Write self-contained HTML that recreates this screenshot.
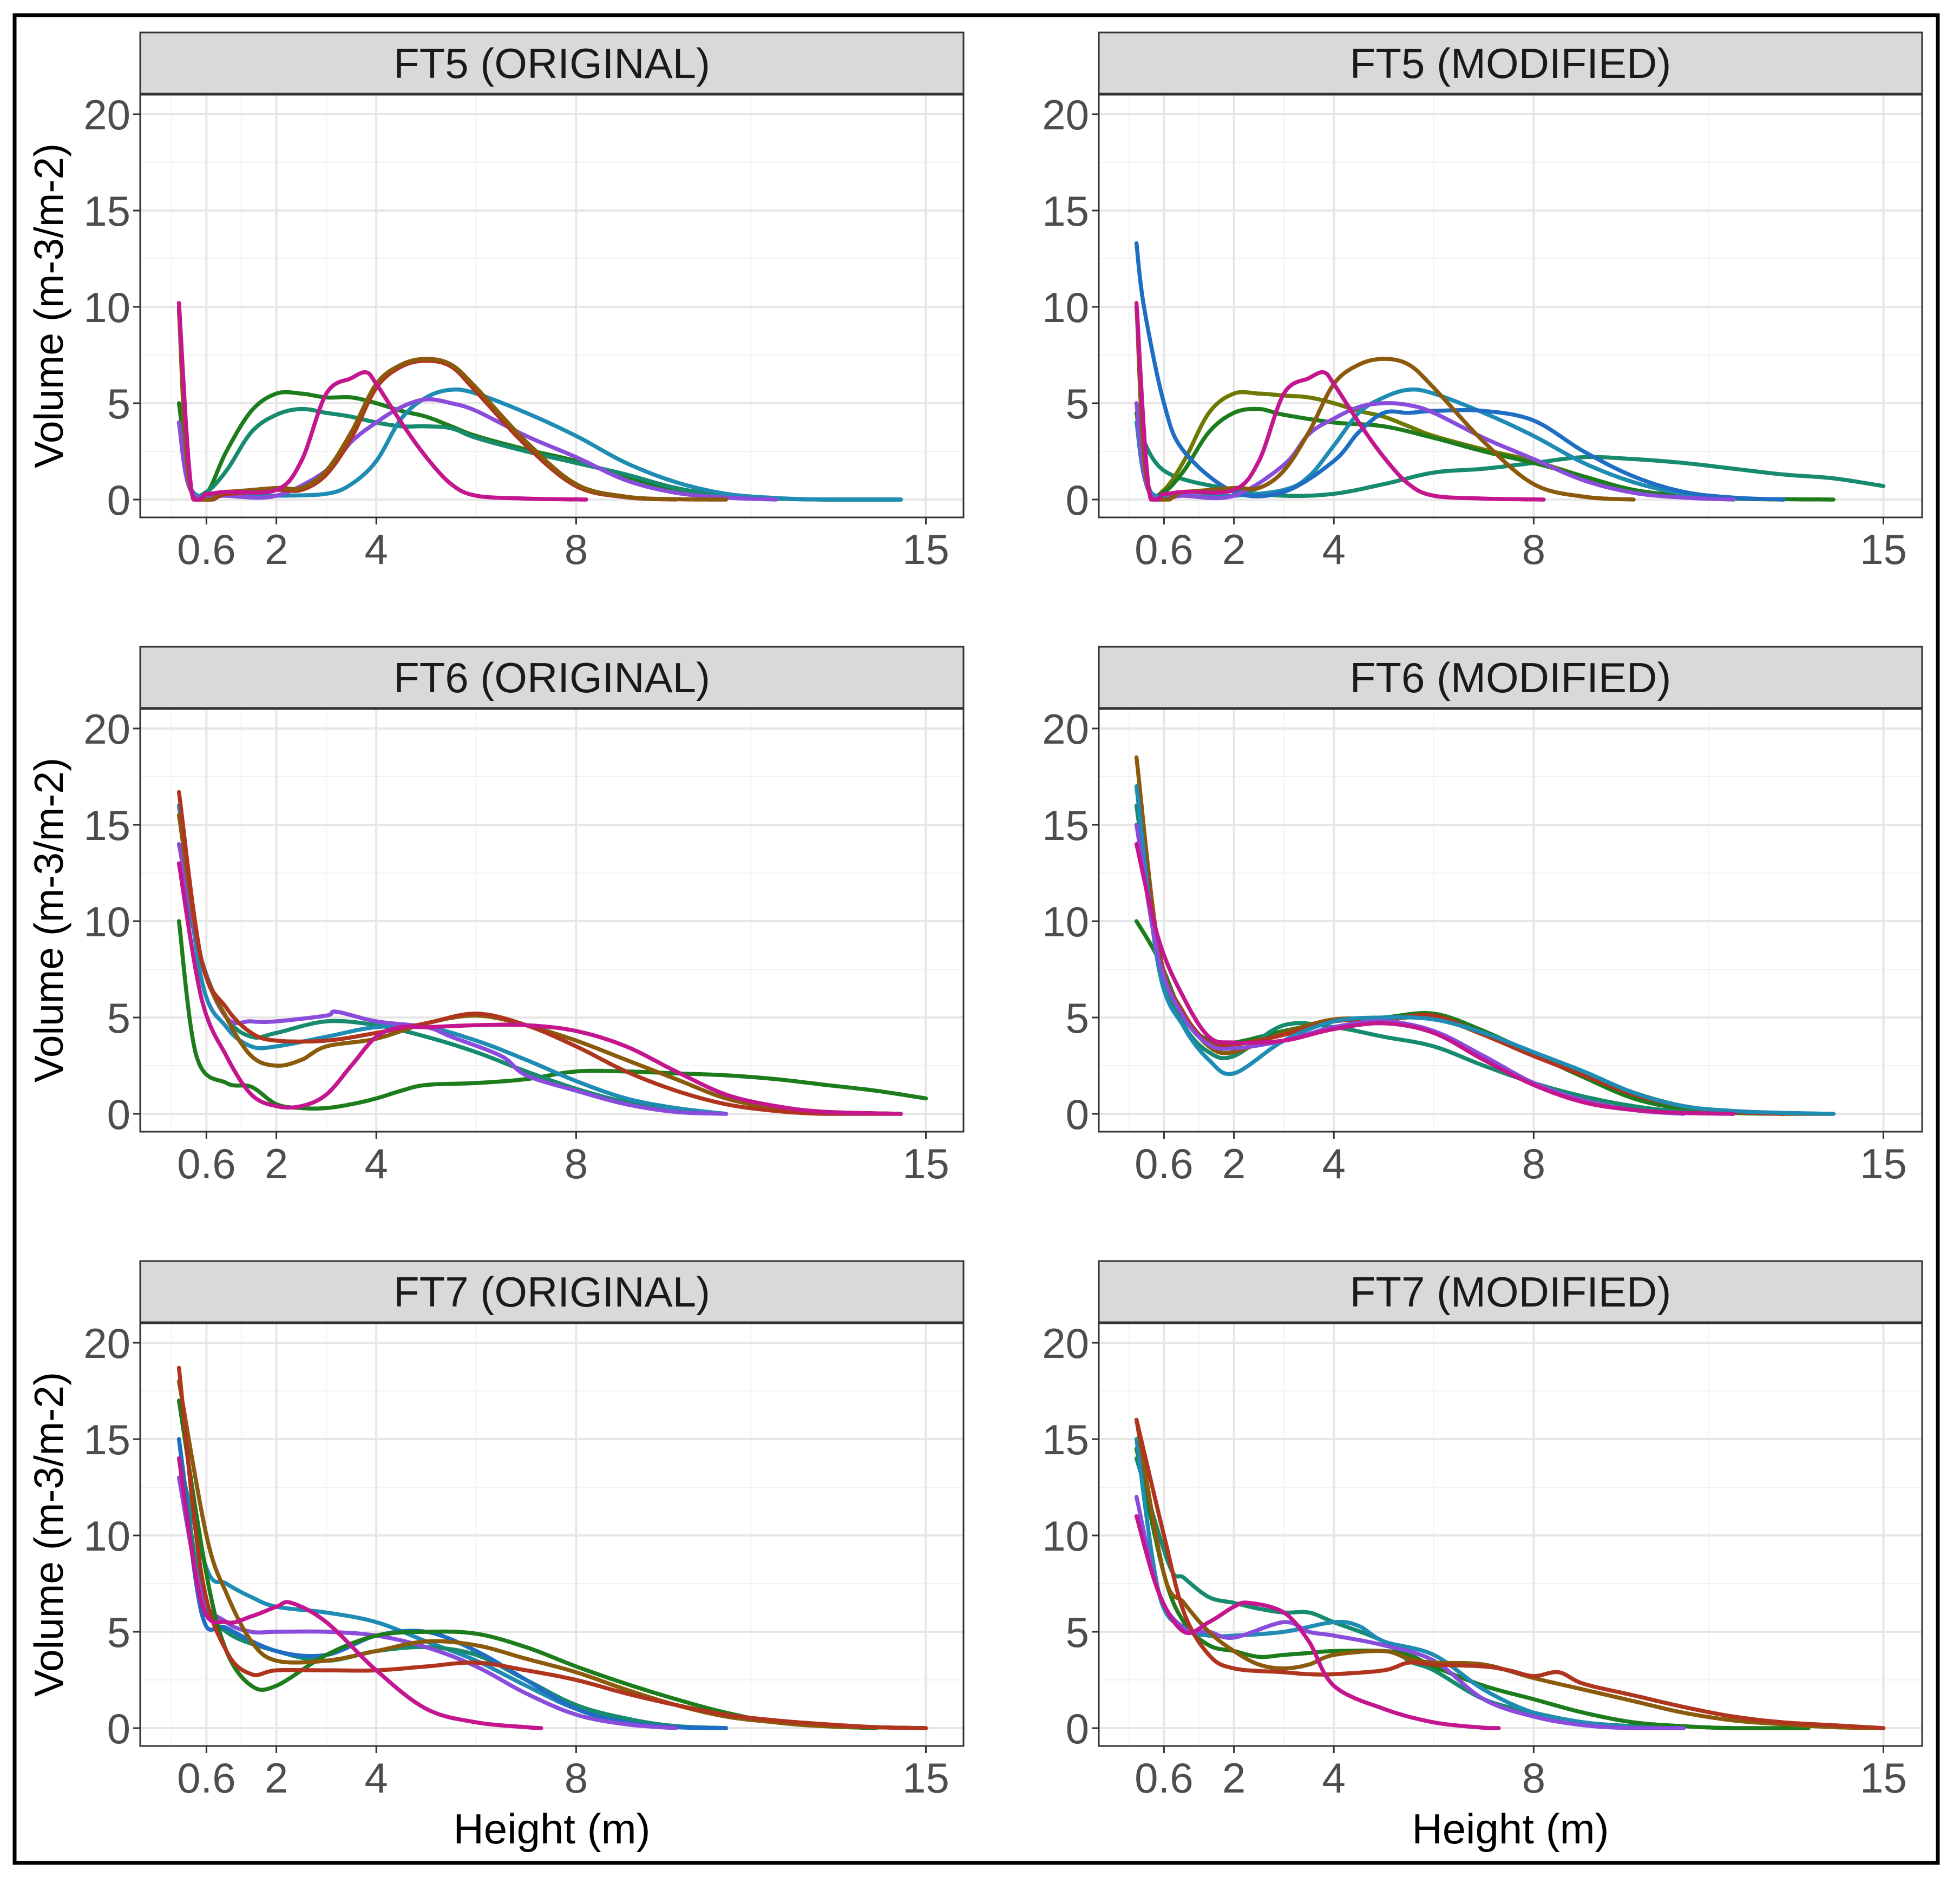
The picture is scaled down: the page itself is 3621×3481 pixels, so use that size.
<!DOCTYPE html>
<html><head><meta charset="utf-8"><style>html,body{margin:0;padding:0;background:#fff}svg{display:block}</style></head>
<body>
<svg id="fig" xmlns="http://www.w3.org/2000/svg" width="3621" height="3481" viewBox="0 0 3621 3481">
<rect x="0" y="0" width="3621" height="3481" fill="#fff"/>
<rect x="27" y="28" width="3553" height="3414" fill="none" stroke="#000" stroke-width="7"/>
<g id="plots"></g>
</svg>
<script>
const panelTitles = ["FT5 (ORIGINAL)","FT5 (MODIFIED)","FT6 (ORIGINAL)","FT6 (MODIFIED)","FT7 (ORIGINAL)","FT7 (MODIFIED)"];
const xTicks = [0.6,2,4,8,15];
const xTickLabels = ["0.6","2","4","8","15"];
const xMinor = [-0.1,1.3,3,6,11.5];
const yTicks = [0,5,10,15,20];
const yTickLabels = ["0","5","10","15","20"];
const yMinor = [2.5,7.5,12.5,17.5];

// FT5 original
const ft5o_green = [[0.05,5],[0.3,0.5],[0.6,0.3],[1,2.5],[1.5,4.6],[2,5.5],[2.5,5.5],[3,5.3],[3.5,5.3],[4,5.0],[4.5,4.6],[5,4.3],[5.5,3.8],[6,3.3],[7,2.6],[8,2.0],[9,1.2],[10,0.5],[11,0.2],[12,0.05],[13,0],[14.5,0]];
const ft5o_teal = [[0.05,4],[0.3,0.5],[0.6,0.4],[1,1.5],[1.5,3.5],[2,4.4],[2.5,4.7],[3,4.5],[3.5,4.3],[4,4.0],[4.5,3.8],[5,3.8],[5.5,3.7],[6,3.2],[7,2.5],[8,1.9],[9,1.3],[10,0.6],[11,0.2],[12,0.05],[13,0],[14.5,0]];
const ft5o_magenta = [[0.05,10.2],[0.3,0.5],[0.6,0.3],[1,0.4],[2,0.5],[2.5,2],[3,5.5],[3.5,6.3],[3.8,6.6],[4,6],[4.5,4],[5,2.2],[5.5,0.8],[6,0.2],[7,0.05],[8.2,0]];
const ft5o_brown = [[0.05,10],[0.3,0.4],[1,0.4],[2,0.6],[2.5,0.6],[3,1.5],[3.5,3.5],[4,6],[4.5,7],[5,7.3],[5.5,7],[6,5.8],[7,3.0],[8,0.8],[9,0.15],[10,0.02],[11,0]];
const ft5o_red = [[0.05,9.8],[0.3,0.4],[1,0.3],[2,0.5],[2.5,0.5],[3,1.3],[3.5,3.2],[4,5.8],[4.5,6.9],[5,7.2],[5.5,6.9],[6,5.6],[7,2.8],[8,0.7],[9,0.12],[10,0]];
const ft5o_purple = [[0.05,4],[0.3,0.4],[1,0.2],[2,0.2],[3,1.5],[3.5,3.0],[4,4],[4.5,4.8],[5,5.2],[5.5,5],[6,4.6],[7,3.3],[8,2.2],[9,1.0],[10,0.35],[11,0.1],[12,0]];
const ft5o_tealblue = [[0.05,4],[0.3,0.5],[1,0.2],[2,0.2],[3,0.3],[3.5,0.8],[4,2.0],[4.5,4.2],[5,5.3],[5.5,5.7],[6,5.5],[7,4.5],[8,3.3],[9,1.9],[10,0.9],[11,0.3],[12,0.08],[13,0],[14.5,0]];
// FT5 modified
const ft5m_blue = [[0.05,13.3],[0.2,10],[0.6,5],[1,2.5],[2,0.4],[3,0.4],[4,2],[4.5,3.5],[5,4.5],[5.5,4.5],[6,4.6],[7,4.6],[8,4.1],[9,2.5],[10,1.2],[11,0.4],[12,0.1],[13,0]];
const ft5m_teal = [[0.05,4],[0.6,1.5],[2,0.5],[3,0.2],[4,0.3],[5,0.8],[6,1.4],[7,1.6],[8,1.9],[9,2.2],[10,2.1],[11,1.9],[12,1.6],[13,1.3],[14,1.1],[15,0.7]];
const ft5m_olive = [[0.05,5],[0.3,0.5],[0.6,0.5],[1,2],[1.5,4.5],[2,5.5],[2.5,5.5],[3,5.4],[3.5,5.3],[4,5.0],[4.5,4.6],[5,4.3],[5.5,3.8],[6,3.3],[7,2.6],[8,2.0],[9,1.2],[10,0.5],[11,0.2],[12,0.05],[13,0]];
const ft5m_green = [[0.05,4.5],[0.3,0.6],[0.6,0.4],[1,1.5],[1.5,3.5],[2,4.5],[2.5,4.7],[3,4.4],[4,4.0],[5,3.8],[6,3.2],[7,2.5],[8,1.9],[9,1.2],[10,0.5],[11,0.2],[12,0.05],[14,0]];
const ft5m_magenta = [[0.05,10.2],[0.3,0.5],[0.6,0.3],[1,0.4],[2,0.5],[2.5,2],[3,5.5],[3.5,6.3],[3.8,6.6],[4,6],[4.5,4],[5,2.2],[5.5,0.8],[6,0.2],[7,0.05],[8.2,0]];
const ft5m_brown = [[0.05,10],[0.3,0.4],[1,0.4],[2,0.6],[2.5,0.6],[3,1.5],[3.5,3.5],[4,6],[4.5,7],[5,7.3],[5.5,7],[6,5.8],[7,3.0],[8,0.8],[9,0.15],[10,0]];
const ft5m_purple = [[0.05,5],[0.3,0.4],[1,0.2],[2,0.2],[3,1.8],[3.5,3.4],[4,4.2],[4.5,4.8],[5,5.0],[5.5,4.9],[6,4.5],[7,3.2],[8,2.1],[9,1.0],[10,0.35],[11,0.1],[12,0]];
const ft5m_tealblue = [[0.05,4],[0.3,0.5],[1,0.2],[2,0.2],[3,0.5],[3.5,1.2],[4,2.8],[4.5,4.5],[5,5.3],[5.5,5.7],[6,5.5],[7,4.5],[8,3.3],[9,1.9],[10,0.9],[11,0.3],[12,0.08],[13,0]];
// FT6 original
const ft6o_green = [[0.05,10],[0.4,3],[1,1.6],[1.5,1.4],[2,0.5],[2.5,0.3],[3,0.3],[3.5,0.5],[4,0.8],[4.5,1.2],[5,1.5],[6,1.6],[7,1.8],[8,2.2],[9,2.2],[10,2.1],[11,2.0],[12,1.8],[13,1.5],[14,1.2],[15,0.8]];
const ft6o_magenta = [[0.05,13],[0.5,6],[1,3],[1.5,1.0],[2,0.4],[2.5,0.4],[3,1.0],[3.5,2.5],[4,4],[4.5,4.5],[5,4.5],[6,4.6],[7,4.6],[8,4.3],[9,3.5],[10,2.2],[11,1.0],[12,0.4],[13,0.1],[14.5,0]];
const ft6o_brown = [[0.05,15.5],[0.5,8],[1,5],[1.5,3],[2,2.5],[2.5,2.8],[3,3.5],[4,3.9],[5,4.7],[6,5.1],[7,4.6],[8,3.8],[9,2.8],[10,1.8],[11,0.8],[12,0.3],[13,0.1],[14.5,0]];
const ft6o_red = [[0.05,16.7],[0.5,8],[1,5.5],[1.5,4.2],[2,3.8],[3,3.8],[4,4.2],[5,4.7],[6,5.2],[7,4.6],[8,3.5],[9,2.2],[10,1.2],[11,0.5],[12,0.15],[13,0],[14.5,0]];
const ft6o_purple = [[0.05,14],[0.5,8],[1,5],[1.5,4.8],[2,4.8],[3,5.1],[3.2,5.3],[4,4.8],[5,4.5],[5.5,4],[6.5,3],[7,2],[8,1.2],[9,0.5],[10,0.1],[11,0]];
const ft6o_teal = [[0.05,13],[0.5,8],[1,5],[1.5,4],[2,4.2],[3,4.8],[4,4.6],[5,4.0],[6,3.2],[7,2.2],[8,1.3],[9,0.6],[10,0.15],[11,0]];
const ft6o_blue = [[0.05,16],[0.5,7],[1,4.5],[1.5,3.5],[2,3.5],[3,4.0],[4,4.5],[5,4.5],[6,3.8],[7,2.8],[8,1.7],[9,0.8],[10,0.3],[11,0]];
// FT6 modified
const ft6m_brown = [[0.05,18.5],[0.5,8.5],[1,5.2],[1.5,3.5],[2,3.2],[3,4.2],[4,4.9],[5,4.9],[6,5.0],[7,4.1],[8,3.1],[9,2.1],[10,1.1],[11,0.4],[12,0.1],[13,0],[14,0]];
const ft6m_red = [[0.05,17],[0.5,8.2],[1,5.2],[1.5,3.7],[2,3.6],[3,4.1],[4,4.8],[5,4.9],[6,5.1],[7,4.1],[8,3.0],[9,2.0],[10,1.0],[11,0.4],[12,0.1],[13,0]];
const ft6m_blue = [[0.05,17],[0.5,7.5],[1,4.5],[1.5,2.8],[2,2.1],[3,3.8],[4,4.8],[5,5.0],[6,4.9],[7,4.2],[8,3.2],[9,2.2],[10,1.1],[11,0.4],[12,0.15],[13,0.05],[14,0]];
const ft6m_teal = [[0.05,16],[0.5,7.8],[1,4.6],[1.5,3.2],[2,3.0],[3,4.6],[4,4.5],[5,4.0],[6,3.5],[7,2.5],[8,1.6],[9,0.9],[10,0.4],[11,0.1],[12,0]];
const ft6m_green = [[0.05,10],[0.5,8],[1,5],[1.5,3.8],[2,3.7],[3,4.3],[4,4.8],[5,5.0],[6,5.2],[7,4.3],[8,3.1],[9,1.9],[10,0.8],[11,0.25],[12,0.05],[13,0]];
const ft6m_purple = [[0.05,15],[0.5,8],[1,5],[1.5,3.6],[2,3.4],[3,3.8],[4,4.5],[5,4.8],[6,4.3],[7,3.0],[8,1.6],[9,0.7],[10,0.2],[11,0]];
const ft6m_magenta = [[0.05,14],[0.5,9],[1,6],[1.5,4],[2,3.7],[3,3.8],[4,4.4],[5,4.7],[6,4.2],[7,2.8],[8,1.5],[9,0.6],[10,0.2],[11,0.05],[12,0]];
// FT7 original
const ft7o_tealblue = [[0.05,14],[0.6,8.3],[1,7.5],[1.5,6.8],[2,6.3],[3,6],[4,5.5],[5,4.5],[6,3.5],[7,2.2],[8,1.0],[9,0.4],[10,0.1],[11,0]];
const ft7o_magenta = [[0.05,14],[0.5,6.5],[1,5.5],[1.5,5.8],[2,6.3],[2.3,6.5],[3,5.5],[4,3.0],[5,1.0],[6,0.3],[7,0.05],[7.3,0]];
const ft7o_green = [[0.05,17],[0.6,8],[1,4],[1.5,2.2],[2,2.2],[3,3.8],[4,4.8],[5,5.0],[6,4.9],[7,4.2],[8,3.2],[9,2.3],[10,1.5],[11,0.8],[12,0.3],[13,0.1],[14,0]];
const ft7o_brown = [[0.05,18],[0.6,10],[1,7],[1.5,4.5],[2,3.5],[3,3.5],[4,4.0],[5,4.5],[6,4.3],[7,3.6],[8,2.9],[9,2.0],[10,1.2],[11,0.6],[12,0.3],[13,0.1],[15,0]];
const ft7o_red = [[0.05,18.7],[0.5,8],[1,4],[1.5,2.8],[2,3],[3,3],[4,3.0],[5,3.2],[6,3.4],[7,3.0],[8,2.5],[9,1.8],[10,1.2],[11,0.7],[12,0.4],[13,0.2],[14,0.05],[15,0]];
const ft7o_purple = [[0.05,13],[0.5,7],[1,5.5],[1.5,5],[2,5],[3,5],[4,4.8],[5,4.2],[6,3.2],[7,1.8],[8,0.7],[9,0.2],[10,0]];
const ft7o_blue = [[0.05,15],[0.5,6],[1,5.2],[2,4],[3,3.8],[4,4.8],[5,5.0],[6,4.0],[7,2.5],[8,1.0],[9,0.3],[10,0.05],[11,0]];
const ft7o_teal = [[0.05,15],[0.5,7],[1,5],[2,4],[3,3.5],[4,4.0],[5,4.2],[6,3.8],[7,2.5],[8,1.2],[9,0.5],[10,0.1],[11,0]];
// FT7 modified
const ft7m_red = [[0.05,16],[0.6,10],[1,6],[1.5,3.8],[2,3.1],[3,2.9],[3.5,2.8],[4,2.8],[5,3.0],[5.5,3.4],[6,3.3],[7,3.2],[7.5,3.0],[8,2.7],[8.5,2.9],[9,2.3],[10,1.7],[11,1.1],[12,0.6],[13,0.3],[14,0.15],[15,0]];
const ft7m_brown = [[0.05,16],[0.6,8],[1,6.5],[1.5,5],[2,4],[2.5,3.3],[3,3.1],[3.5,3.3],[4,3.8],[5,4.0],[5.5,3.6],[6,3.4],[7,3.3],[8,2.6],[9,2.0],[10,1.4],[11,0.8],[12,0.4],[13,0.2],[14,0.05],[15,0]];
const ft7m_teal = [[0.05,14],[0.7,8.5],[1,7.8],[1.5,6.8],[2,6.5],[2.5,6.2],[3,6],[3.5,6],[4,5.5],[5,4.5],[5.5,3.5],[6,3.0],[7,1.5],[8,0.8],[9,0.3],[10,0.1],[11,0]];
const ft7m_green = [[0.05,14.5],[0.6,8],[1,5.5],[1.5,4.3],[2,4],[2.5,3.7],[3,3.8],[3.5,3.9],[4,4.0],[5,4.0],[5.5,3.8],[6,3.2],[7,2.2],[8,1.5],[9,0.8],[10,0.3],[11,0.1],[12,0],[13.5,0]];
const ft7m_magenta = [[0.05,11],[0.5,7],[1,5],[1.5,5.5],[2,6.3],[2.3,6.5],[3,6],[3.5,4.5],[4,2.2],[5,1.0],[6,0.3],[7,0.02],[7.3,0]];
const ft7m_blue = [[0.05,15],[0.5,7],[1,5.2],[1.5,4.8],[2,4.8],[3,5],[4,5.5],[4.5,5.3],[5,4.5],[6,3.8],[7,2.0],[8,0.8],[9,0.3],[10,0.05],[11,0]];
const ft7m_purple = [[0.05,12],[0.5,7],[1,5.2],[1.5,5],[2,4.7],[3,5.5],[3.5,5.0],[4,4.8],[5,4.3],[6,3.5],[7,1.5],[8,0.6],[9,0.15],[10,0],[11,0]];

const C = {green:"#1d7d1d",teal:"#168b6d",brown:"#8b5a0c",red:"#b0351f",magenta:"#c4168f",purple:"#8a4ddb",blue:"#1f6ec4",tealblue:"#1f8cb3",olive:"#6f7a05"};
const panelSeries = [
 [[ft5o_green,C.green],[ft5o_teal,C.teal],[ft5o_tealblue,C.tealblue],[ft5o_purple,C.purple],[ft5o_red,C.red],[ft5o_brown,C.brown],[ft5o_magenta,C.magenta]],
 [[ft5m_teal,C.teal],[ft5m_olive,C.olive],[ft5m_green,C.green],[ft5m_tealblue,C.tealblue],[ft5m_blue,C.blue],[ft5m_purple,C.purple],[ft5m_brown,C.brown],[ft5m_magenta,C.magenta]],
 [[ft6o_green,C.green],[ft6o_teal,C.teal],[ft6o_blue,C.tealblue],[ft6o_purple,C.purple],[ft6o_brown,C.brown],[ft6o_red,C.red],[ft6o_magenta,C.magenta]],
 [[ft6m_green,C.green],[ft6m_teal,C.teal],[ft6m_brown,C.brown],[ft6m_red,C.red],[ft6m_blue,C.tealblue],[ft6m_purple,C.purple],[ft6m_magenta,C.magenta]],
 [[ft7o_tealblue,C.tealblue],[ft7o_teal,C.teal],[ft7o_blue,C.blue],[ft7o_purple,C.purple],[ft7o_green,C.green],[ft7o_brown,C.brown],[ft7o_red,C.red],[ft7o_magenta,C.magenta]],
 [[ft7m_teal,C.teal],[ft7m_green,C.green],[ft7m_blue,C.tealblue],[ft7m_purple,C.purple],[ft7m_brown,C.brown],[ft7m_red,C.red],[ft7m_magenta,C.magenta]]
];

const NS = "http://www.w3.org/2000/svg";
const root = document.getElementById("plots");
function mk(tag, attrs, parent){const e=document.createElementNS(NS,tag);for(const k in attrs)e.setAttribute(k,attrs[k]);parent.appendChild(e);return e;}

const colX = [259, 2030], W = 1521;
const rowTop = [60, 1195, 2330];
const FONT = '"Liberation Sans", sans-serif';

function smoothPath(pts, sx, sy){
  const P = pts.map(p=>[p[0],p[1]]);
  let out = [];
  for(let i=0;i<P.length-1;i++){
    const p0=P[Math.max(0,i-1)],p1=P[i],p2=P[i+1],p3=P[Math.min(P.length-1,i+2)];
    for(let t=0;t<1;t+=0.05){
      const t2=t*t,t3=t2*t;
      const f=(a,b,c,d)=>0.5*((2*b)+(-a+c)*t+(2*a-5*b+4*c-d)*t2+(-a+3*b-3*c+d)*t3);
      let x=f(p0[0],p1[0],p2[0],p3[0]), y=Math.max(0,f(p0[1],p1[1],p2[1],p3[1]));
      out.push(sx(x).toFixed(1)+","+sy(y).toFixed(1));
    }
  }
  const l=P[P.length-1]; out.push(sx(l[0]).toFixed(1)+","+sy(l[1]).toFixed(1));
  return "M"+out.join("L");
}

panelTitles.forEach((title, i)=>{
  const col=i%2, row=Math.floor(i/2);
  const px=colX[col], top=rowTop[row];
  const stripH=114, plotTop=top+stripH, plotBot=top+896;
  const x0 = col===0?326:2095, xs = 92.3;
  const sx = v=>x0+v*xs;
  const y0 = top+863, ys = (863-151)/20;
  const sy = v=>y0-v*ys;
  const g = mk("g",{},root);
  
  
  const bg = mk("rect",{x:px,y:plotTop,width:W,height:plotBot-plotTop,fill:"#fff"},g);
  
  
  yMinor.forEach(v=>{const l=mk("line",{x1:px,x2:px+W,y1:sy(v),y2:sy(v),stroke:"#f2f2f2","stroke-width":2},g);});
  xMinor.forEach(v=>{const l=mk("line",{x1:sx(v),x2:sx(v),y1:plotTop,y2:plotBot,stroke:"#f2f2f2","stroke-width":2},g);});
  yTicks.forEach(v=>{const l=mk("line",{x1:px,x2:px+W,y1:sy(v),y2:sy(v),stroke:"#e6e6e6","stroke-width":4},g);});
  xTicks.forEach(v=>{const l=mk("line",{x1:sx(v),x2:sx(v),y1:plotTop,y2:plotBot,stroke:"#e6e6e6","stroke-width":4},g);});
  panelSeries[i].forEach(([pts,color],k)=>{
    const p = mk("path",{d:smoothPath(pts,sx,sy),fill:"none",stroke:color,"stroke-width":7.5,"stroke-linejoin":"round","stroke-linecap":"round"},g);
    
    
  });
  const border = mk("rect",{x:px,y:plotTop,width:W,height:plotBot-plotTop,fill:"none",stroke:"#333","stroke-width":3},g);
  
  
  const strip = mk("rect",{x:px,y:top,width:W,height:stripH,fill:"#d9d9d9",stroke:"#333","stroke-width":3},g);
  
  
  const sl = mk("line",{x1:px,x2:px+W,y1:plotTop,y2:plotTop,stroke:"#333","stroke-width":5},g);
  
  
  const st = mk("text",{x:px+W/2,y:top+stripH/2+27,"text-anchor":"middle","font-family":FONT,"font-size":78,fill:"#1a1a1a"},g);
  st.textContent = title;
  
  
  yTicks.forEach((v,k)=>{
    const t=mk("line",{x1:px-13,x2:px,y1:sy(v),y2:sy(v),stroke:"#333","stroke-width":3},g);
    
    
    const tx=mk("text",{x:px-18,y:sy(v)+28,"text-anchor":"end","font-family":FONT,"font-size":78,fill:"#4d4d4d"},g);
    tx.textContent=yTickLabels[k];
    
    
  });
  xTicks.forEach((v,k)=>{
    const t=mk("line",{x1:sx(v),x2:sx(v),y1:plotBot,y2:plotBot+13,stroke:"#333","stroke-width":3},g);
    
    
    const tx=mk("text",{x:sx(v),y:plotBot+86,"text-anchor":"middle","font-family":FONT,"font-size":78,fill:"#4d4d4d"},g);
    tx.textContent=xTickLabels[k];
    
    
  });
  if(col===0){
    const yt=mk("text",{x:0,y:0,transform:`translate(116,${(plotTop+plotBot)/2}) rotate(-90)`,"text-anchor":"middle","font-family":FONT,"font-size":75,fill:"#000"},g);
    yt.textContent="Volume (m-3/m-2)";
    
    
  }
  if(row===2){
    const xt=mk("text",{x:px+W/2,y:plotBot+180,"text-anchor":"middle","font-family":FONT,"font-size":78,fill:"#000"},g);
    xt.textContent="Height (m)";
    
    
  }
});
</script>
</body></html>
